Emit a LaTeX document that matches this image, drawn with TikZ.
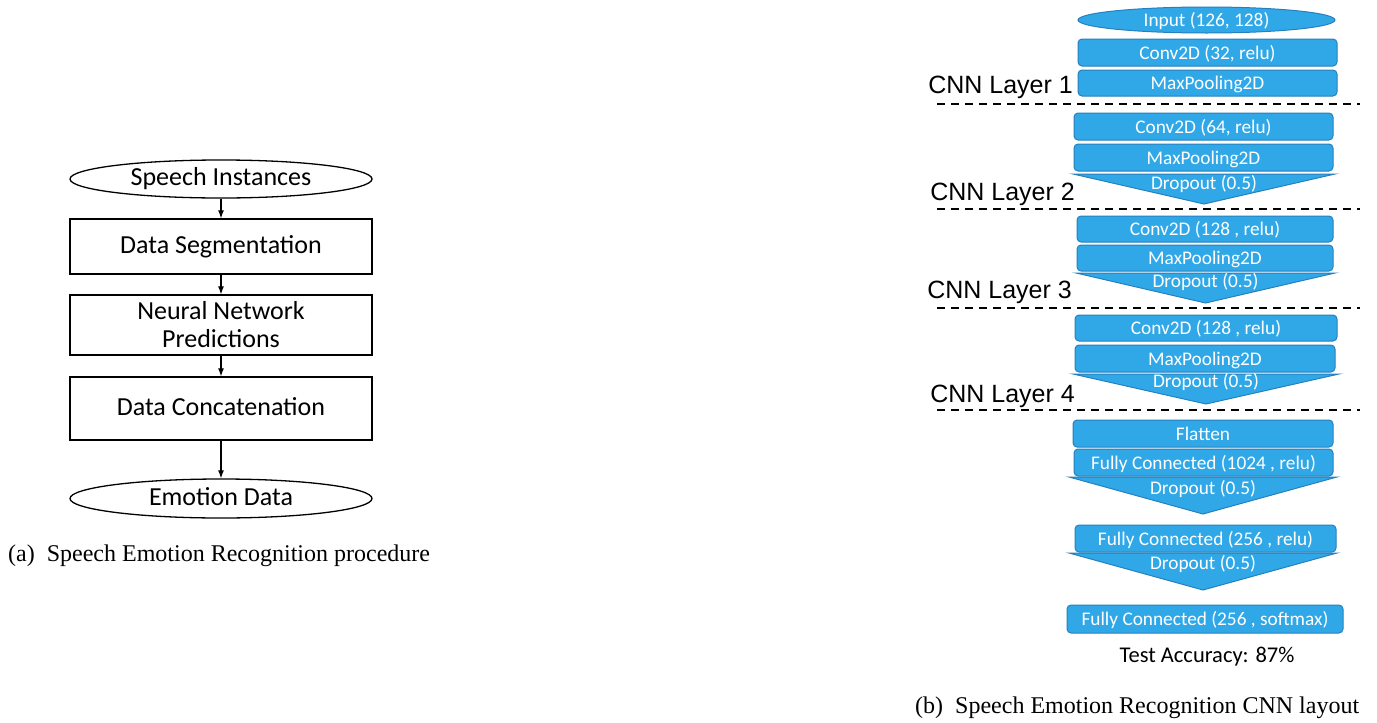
\documentclass[tikz,border=0pt]{standalone}
\usepackage{fontspec}
\setmainfont{Liberation Serif}
\newfontfamily\calibrifont{Carlito}
\newfontfamily\arialfont{Liberation Sans}
\usetikzlibrary{shapes.geometric,arrows.meta}
\definecolor{cnnfill}{RGB}{48,168,232}
\definecolor{cnnline}{RGB}{38,128,190}
\tikzset{
  flowbox/.style={draw=black,line width=1.3pt,minimum width=302pt,align=center,font=\calibrifont\fontsize{26}{30}\selectfont,inner sep=0pt},
  oneline/.style={text height=1.35em,text depth=0em},
  flowell/.style={ellipse,draw=black,line width=1.3pt,minimum width=302pt,minimum height=38pt,inner sep=0pt,oneline,font=\calibrifont\fontsize{26}{30}\selectfont},
  flowarrow/.style={-{Latex[length=8pt,width=6pt]},line width=1.2pt},
  layerbox/.style={draw=cnnline,fill=cnnfill,line width=1pt,rounded corners=4pt,inner sep=0pt,oneline,text=white,font=\calibrifont\fontsize{19.3}{21}\selectfont},
  droptext/.style={text=white,inner sep=0pt,font=\calibrifont\fontsize{19.3}{21}\selectfont},
  droptri/.style={draw=cnnline,fill=cnnfill,line width=1pt},
  layerlbl/.style={inner sep=0pt,anchor=east,font=\arialfont\fontsize{25}{28}\selectfont},
  sep/.style={dashed,dash pattern=on 8pt off 6pt,line width=1.8pt},
  capt/.style={inner sep=0pt,font=\fontsize{24}{28}\selectfont}
}
\newcommand{\lbox}[6]{% name, x1, y1, x2, y2, text
  \node[layerbox,minimum width=#4pt-#2pt,minimum height=#5pt-#3pt] (#1) at ({(#2+#4)/2},{(#3+#5)/2}) {#6};}
\newcommand{\ldrop}[6]{% name, x1, x2, ytop, yapex, texty
  \draw[droptri] (#2,#4) -- (#3,#4) -- ({(#2+#3)/2},#5) -- cycle;
  \node[droptext] (#1) at ({(#2+#3)/2},#6) {Dropout (0.5)};}
\begin{document}
\begin{tikzpicture}[x=1pt,y=-1pt]
\useasboundingbox (0,0) rectangle (1377,723);
% ---------- left flowchart ----------
\node[flowell] (si) at (221,179) {Speech Instances};
\node[flowbox,oneline,minimum height=55pt] (ds) at (221,246.5) {Data Segmentation};
\node[flowbox,minimum height=60pt] (nn) at (221,325) {Neural Network\\[-2pt]Predictions};
\node[flowbox,oneline,minimum height=63pt] (dc) at (221,408.5) {Data Concatenation};
\node[flowell,minimum height=39pt] (ed) at (221,498.5) {Emotion Data};
\draw[flowarrow] (si) -- (ds);
\draw[flowarrow] (ds) -- (nn);
\draw[flowarrow] (nn) -- (dc);
\draw[flowarrow] (dc) -- (ed);
\node[capt,anchor=west] (capa) at (8,556) {(a)\ \ Speech\ Emotion\ Recognition\ procedure};
% ---------- right CNN ----------
\node[ellipse,draw=cnnline,fill=cnnfill,line width=1pt,minimum width=257pt,minimum height=26pt,inner sep=0pt,oneline,text=white,font=\calibrifont\fontsize{19.3}{21}\selectfont] (inp) at (1206.5,20) {Input (126, 128)};
\lbox{c1}{1078}{39}{1337}{66}{Conv2D (32, relu)}
\lbox{p1}{1078}{70}{1337}{96}{MaxPooling2D}
\node[layerlbl] (l1) at (1073,87) {CNN Layer 1};
\coordinate (d1a) at (937,104); \coordinate (d1b) at (1360,104);
\draw[sep] (d1a) -- (d1b);
\lbox{c2}{1074}{113}{1333}{140}{Conv2D (64, relu)}
\lbox{p2}{1074}{144}{1333}{171}{MaxPooling2D}
\ldrop{dr2}{1073}{1335}{174}{204}{184}
\node[layerlbl] (l2) at (1075,194) {CNN Layer 2};
\coordinate (d2a) at (937,209); \coordinate (d2b) at (1360,209);
\draw[sep] (d2a) -- (d2b);
\lbox{c3}{1077}{216}{1333}{242}{Conv2D (128 , relu)}
\lbox{p3}{1077}{245}{1333}{271}{MaxPooling2D}
\ldrop{dr3}{1076}{1335}{273}{303}{282}
\node[layerlbl] (l3) at (1072,292) {CNN Layer 3};
\coordinate (d3a) at (937,308); \coordinate (d3b) at (1360,308);
\draw[sep] (d3a) -- (d3b);
\lbox{c4}{1075}{315}{1337}{341}{Conv2D (128 , relu)}
\lbox{p4}{1075}{345}{1335}{372}{MaxPooling2D}
\ldrop{dr4}{1073}{1339}{374}{404}{382}
\node[layerlbl] (l4) at (1075,396) {CNN Layer 4};
\coordinate (d4a) at (937,410); \coordinate (d4b) at (1360,410);
\draw[sep] (d4a) -- (d4b);
\lbox{fl}{1073}{420}{1333}{447}{Flatten}
\lbox{fc1}{1074}{449}{1333}{476}{Fully Connected (1024 , relu)}
\ldrop{dr5}{1069}{1337}{477}{514}{489}
\lbox{fc2}{1075}{525}{1336}{552}{Fully Connected (256 , relu)}
\ldrop{dr6}{1069}{1337}{553}{590}{564}
\lbox{fc3}{1067}{605}{1343}{633}{Fully Connected (256 , softmax)}
\node[inner sep=0pt,font=\calibrifont\fontsize{22.5}{25}\selectfont] (acc) at (1207,657) {Test Accuracy: 87\%};
\node[capt,anchor=west] (capb) at (915,708) {(b)\ \ Speech\ Emotion\ Recognition\ CNN\ layout};
\end{tikzpicture}
\end{document}
